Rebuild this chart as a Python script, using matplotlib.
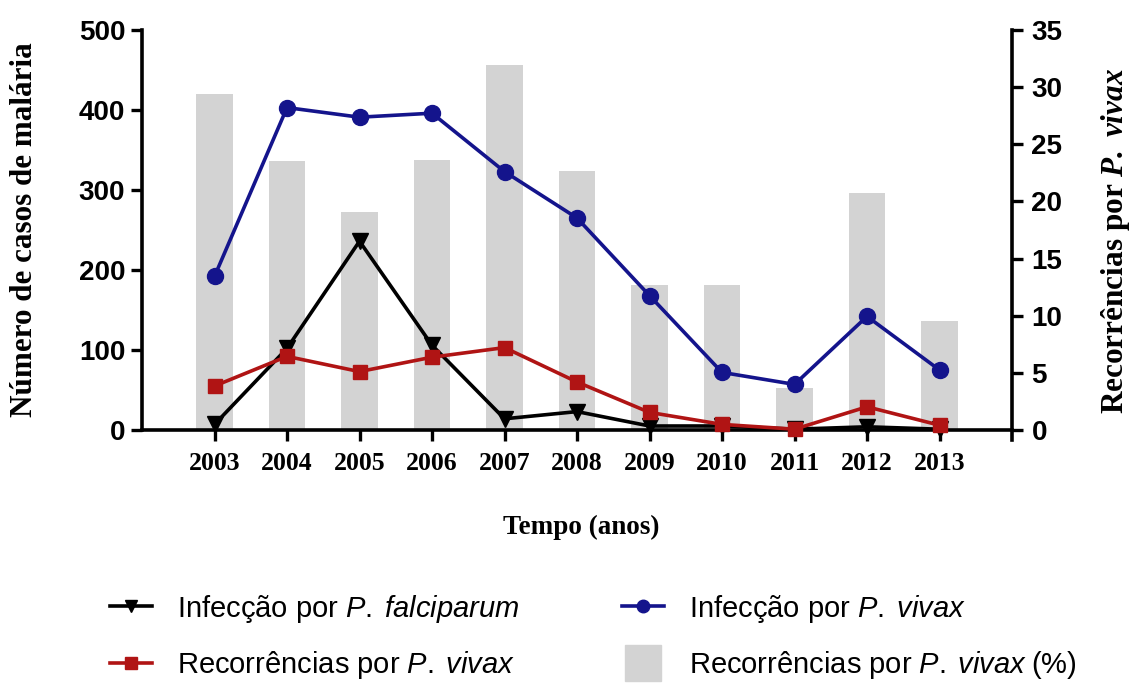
import matplotlib
matplotlib.use("Agg")
from matplotlib import pyplot as plt
from matplotlib.lines import Line2D
import numpy as np

# data
years = [2003, 2004, 2005, 2006, 2007, 2008, 2009, 2010, 2011, 2012, 2013]
falciparum = [7, 102, 236, 106, 14, 23, 5, 5, 1, 4, 1]
vivax = [192, 403, 391, 396, 323, 265, 168, 72, 57, 142, 75]
recorrencias = [55, 92, 73, 91, 103, 60, 22, 7, 1, 29, 6]
recorrencias_pct = [29.4, 23.5, 19.1, 23.65, 31.9, 22.7, 12.65, 12.7, 3.7, 20.75, 9.5]

left_ticks = [0, 100, 200, 300, 400, 500]
right_ticks = [0, 5, 10, 15, 20, 25, 30, 35]

plt.rcParams['mathtext.fontset'] = 'custom'
plt.rcParams['mathtext.rm'] = 'Liberation Sans'
plt.rcParams['mathtext.it'] = 'Liberation Sans:italic'
plt.rcParams['mathtext.bfit'] = 'Liberation Serif:italic:bold'

SANS = 'Liberation Sans'
SERIF = 'Liberation Serif'
BLUE = '#14148c'
RED = '#b01414'
GREY = '#d3d3d3'

fig = plt.figure(figsize=(11.3, 6.86), dpi=100)
ax = fig.add_axes([142 / 1130, 1 - 430 / 686, 870 / 1130, 400 / 686])
ax2 = ax.twinx()

# bars (percent) on the right axis, behind the lines
ax2.bar(years, recorrencias_pct, width=0.5, color=GREY, zorder=1)
ax.set_zorder(ax2.get_zorder() + 1)
ax.patch.set_visible(False)

lw = 2.6
ax.plot(years, falciparum, color='black', lw=lw, marker='v', ms=11, zorder=3, clip_on=False)
ax.plot(years, recorrencias, color=RED, lw=lw, marker='s', ms=10.5, zorder=4, clip_on=False)
ax.plot(years, vivax, color=BLUE, lw=lw, marker='o', ms=11.5, zorder=5, clip_on=False)

ax.set_xlim(2002, 2014)
ax.set_ylim(0, 500)
ax2.set_ylim(0, 35)
ax.set_xticks(years)
ax.set_yticks(left_ticks)
ax2.set_yticks(right_ticks)

for a in (ax, ax2):
    a.spines['top'].set_visible(False)
    for s in ('left', 'right', 'bottom'):
        a.spines[s].set_linewidth(2.6)
ax.spines['right'].set_visible(False)
ax2.spines['left'].set_visible(False)
ax2.spines['bottom'].set_visible(False)
ax2.spines['right'].set_bounds(-0.85, 35)

ax.tick_params(axis='y', length=8, width=2.4, pad=4)
ax.tick_params(axis='x', length=8, width=2.4, pad=8)
ax2.tick_params(axis='y', length=8, width=2.4, pad=6)

for lab in ax.get_yticklabels() + ax2.get_yticklabels():
    lab.set_fontfamily(SANS)
    lab.set_fontweight('bold')
    lab.set_fontsize(20)
for lab in ax.get_xticklabels():
    lab.set_fontfamily(SERIF)
    lab.set_fontweight('bold')
    lab.set_fontsize(18.5)

fig.text(25 / 1130, 1 - 230 / 686, 'Número de casos de malária', rotation=90,
         ha='center', va='center', fontsize=22.4, fontweight='bold', family=SERIF)
fig.text(1115 / 1130, 1 - 241 / 686, r'Recorrências por $\mathbfit{P.\;vivax}$', rotation=90,
         ha='center', va='center', fontsize=22.5, fontweight='bold', family=SERIF)
fig.text(581 / 1130, 1 - 527 / 686, 'Tempo (anos)', ha='center', va='center',
         fontsize=19.5, fontweight='bold', family=SERIF)

handles = [
    Line2D([], [], color='black', lw=lw, marker='v', ms=9),
    Line2D([], [], color=RED, lw=lw, marker='s', ms=9),
    Line2D([], [], color=BLUE, lw=lw, marker='o', ms=9),
    Line2D([], [], color=GREY, lw=0, marker='s', ms=26),
]
labels = [
    r'Infecção por $\mathit{P.\;falciparum}$',
    r'Recorrências por $\mathit{P.\;vivax}$',
    r'Infecção por $\mathit{P.\;vivax}$',
    r'Recorrências por $\mathit{P.\;vivax\;(\%)}$',
]
fig.legend(handles, labels, ncol=2, loc='center left',
           bbox_to_anchor=(110 / 1130, 1 - 637 / 686), frameon=False,
           prop={'family': SANS, 'size': 21}, handlelength=1.45,
           handletextpad=0.85, columnspacing=3.5, labelspacing=0.85,
           borderpad=0, borderaxespad=0)

fig.savefig('out.png', dpi=100)
